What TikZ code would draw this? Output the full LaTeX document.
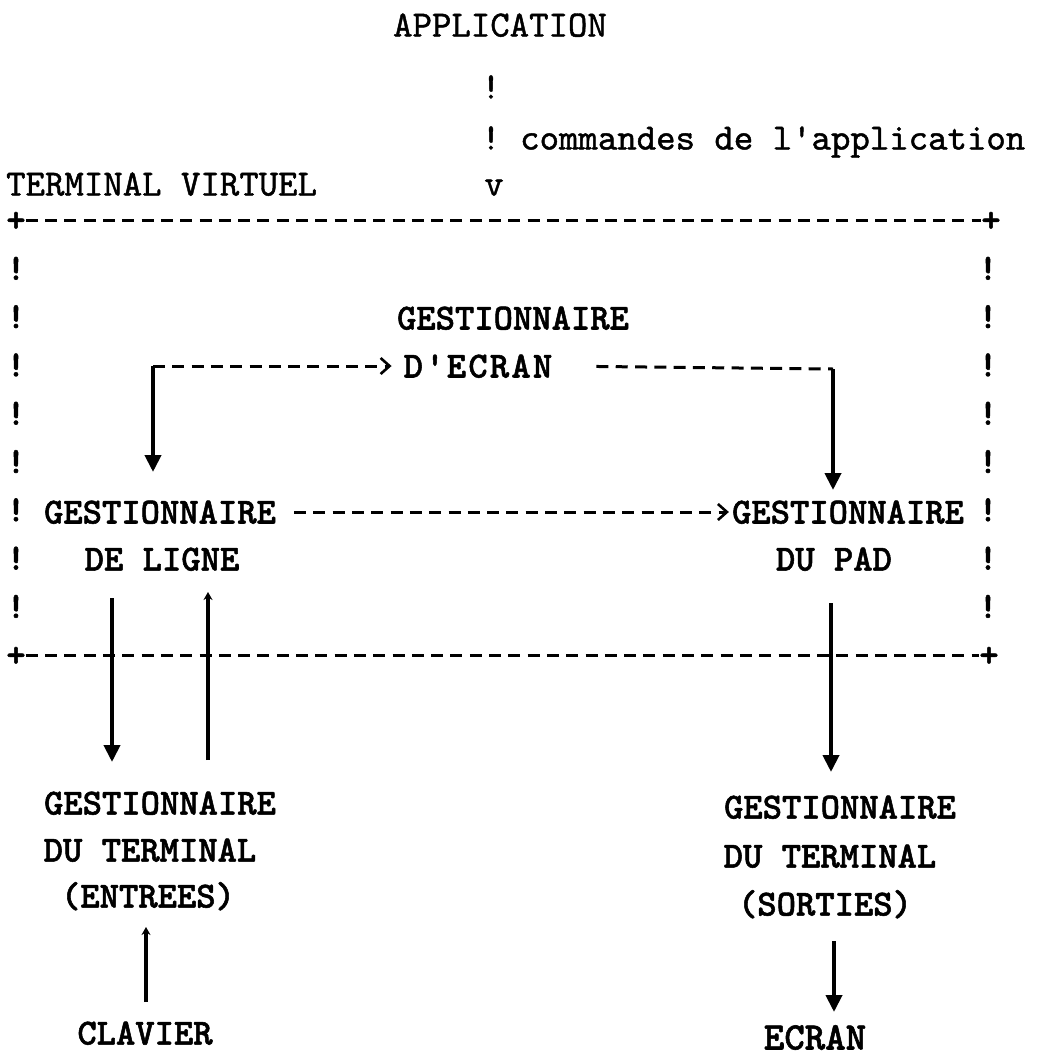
\documentclass[tikz,border=0pt]{standalone}
\usepackage{fontspec}
\newfontfamily\tw{lmmonolt10-bold.otf}[FakeBold=1.4]
\newfontfamily\twtop{lmmono10-regular.otf}[FakeBold=1.2]
\usetikzlibrary{arrows.meta}
\begin{document}
\begin{tikzpicture}[x=1pt,y=-1pt,
  txt/.style={font=\tw\fontsize{36.8}{40}\selectfont, inner sep=0pt, text height=23pt, text depth=0pt},
  toptxt/.style={font=\twtop\fontsize{37}{40}\selectfont, inner sep=0pt, text height=21pt, text depth=0pt},
  border/.style={line width=3pt, dash pattern=on 12pt off 7.3pt},
  pen/.style={line width=4pt},
  head/.style={-{Triangle[width=16pt,length=17pt]}},
  smallhead/.style={-{Stealth[width=9pt,length=8pt]}},
  barb/.style={-{Straight Barb[width=16pt,length=9pt,line width=2.6pt]}},
]
\useasboundingbox (0,0) rectangle (1043,1058);
\fill[white] (0,0) rectangle (1043,1058);

% application and its command channel
\node[toptxt] (app) at (500,26) {APPLICATION};
\node[toptxt] (c1) at (491,88) {!};
\node[toptxt] (c2) at (491,139) {!};
\node[toptxt, anchor=west] (cmd) at (520,139) {commandes de l'application};
\node[toptxt, anchor=west] (tv) at (6,185) {TERMINAL VIRTUEL};
\node[toptxt] (c3) at (494,185) {v};

% virtual terminal frame
\node[txt] (tl) at (16,220) {+};
\node[txt] (tr) at (991,220) {+};
\node[txt] (bl) at (16,655) {+};
\node[txt] (br) at (989,655) {+};
\draw[border] (tl.east) -- (tr.west);
\draw[border] (bl.east) -- (br.west);
\foreach \r in {1,...,8}{
  \node[txt] (lb\r) at (16,{220+48.3*\r}) {!};
  \node[txt] (rb\r) at (988,{220+48.3*\r}) {!};
}

% screen manager
\node[txt] (ge1) at (513,318) {GESTIONNAIRE};
\node[txt, font=\tw\fontsize{36.8}{40}\selectfont\addfontfeature{LetterSpace=6}] (ge2) at (478,366) {D'ECRAN};
\coordinate (jl) at (153,366);
\coordinate (jr) at (833,369);
\draw[border, barb, shorten >=12pt] (jl) -- (ge2.west);
\draw[border, shorten <=44pt] (ge2.east) -- (jr);

% line manager and pad manager
\node[txt] (lg1) at (160,512) {GESTIONNAIRE};
\node[txt] (lg2) at (162,559) {DE LIGNE};
\node[txt] (pd1) at (848,512) {GESTIONNAIRE};
\node[txt] (pd2) at (834,559) {DU PAD};
\draw[border, barb, shorten <=18pt, shorten >=3pt] (lg1.east) -- (pd1.west);

\coordinate (jle) at (153,472);
\coordinate (jre) at (833,490);
\draw[pen, head] (jl) -- (jle);
\draw[pen, head] (jr) -- (jre);

% terminal managers
\node[txt] (gt1) at (160,803) {GESTIONNAIRE};
\node[txt] (gt2) at (150,850) {DU TERMINAL};
\node[txt] (gt3) at (148,896) {(ENTREES)};
\node[txt] (kb) at (145,1033) {CLAVIER};
\node[txt] (st1) at (840,807) {GESTIONNAIRE};
\node[txt] (st2) at (830,856) {DU TERMINAL};
\node[txt] (st3) at (825,904) {(SORTIES)};
\node[txt, font=\tw\fontsize{39}{40}\selectfont] (scr) at (815,1038) {ECRAN};

\coordinate (a1s) at (112,598);
\coordinate (a1e) at (112,762);
\coordinate (a2s) at (208,760);
\coordinate (a2e) at (208,592);
\coordinate (a3s) at (831,603);
\coordinate (a3e) at (831,772);
\coordinate (a4s) at (146,1002);
\coordinate (a4e) at (146,927);
\coordinate (a5s) at (834,941);
\coordinate (a5e) at (834,1012);
\draw[pen, head] (a1s) -- (a1e);
\draw[pen, smallhead] (a2s) -- (a2e);
\draw[pen, head] (a3s) -- (a3e);
\draw[pen, smallhead] (a4s) -- (a4e);
\draw[pen, head] (a5s) -- (a5e);
\end{tikzpicture}
\end{document}
